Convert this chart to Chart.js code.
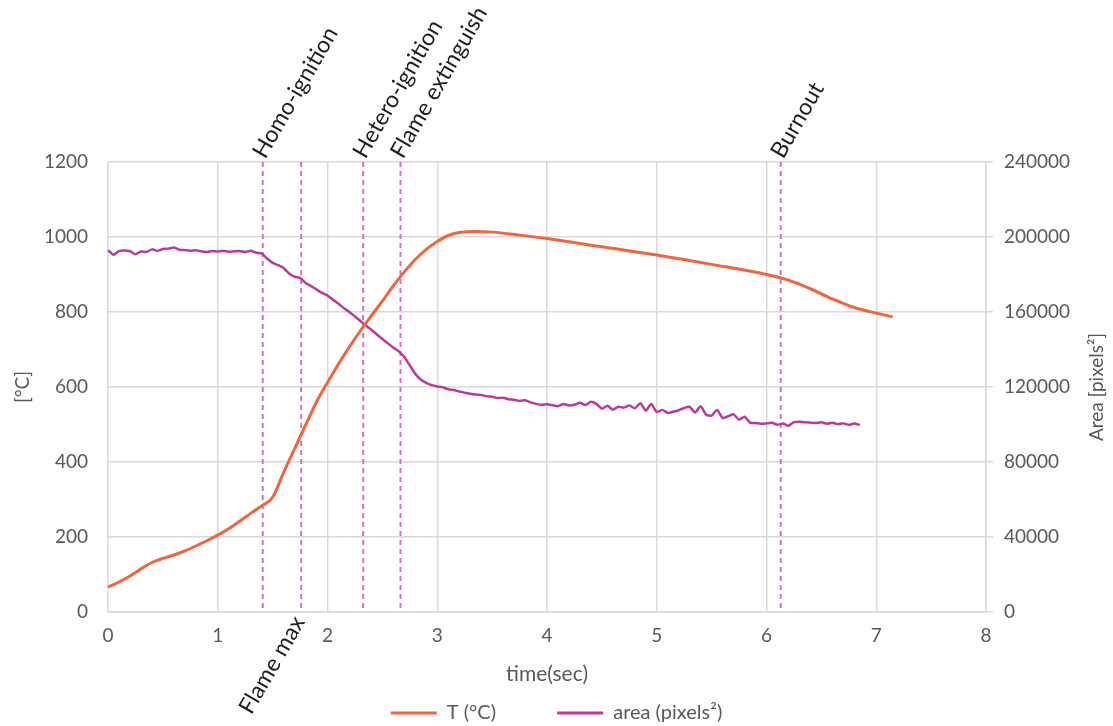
<!DOCTYPE html>
<html>
<head>
<meta charset="utf-8">
<script src="https://cdn.jsdelivr.net/npm/chart.js@4.4.1/dist/chart.umd.min.js"></script>
<style>
  html, body { margin: 0; padding: 0; background: #ffffff; overflow: hidden; }
  #wrap { width: 1113px; height: 726px; }
</style>
</head>
<body>
<div id="wrap"><canvas id="c" width="1113" height="726"></canvas></div>
<script>
// ---- data ----
const tempTimes = [0, 0.1, 0.2, 0.3, 0.4, 0.5, 0.6, 0.7, 0.8, 0.9, 1.0, 1.1, 1.2, 1.3, 1.4, 1.5, 1.6, 1.7, 1.8, 1.9, 2.0, 2.1, 2.2, 2.3, 2.4, 2.5, 2.6, 2.7, 2.8, 2.9, 3.0, 3.1, 3.2, 3.35, 3.5, 3.75, 4.0, 4.5, 5.0, 5.5, 6.0, 6.2, 6.4, 6.6, 6.8, 7.0, 7.15];
const tempValues = [67, 80, 96, 115, 132, 143, 152, 163, 176, 190, 205, 222, 242, 263, 283, 306, 372, 435, 498, 560, 612, 661, 707, 750, 790, 829, 870, 907, 940, 967, 988, 1004, 1012, 1015, 1013, 1005, 996, 974, 952, 927, 900, 885, 862, 835, 812, 797, 787];

const areaTimes = [
  0.00, 0.05, 0.10, 0.15, 0.20, 0.25, 0.30, 0.35, 0.40, 0.45, 0.50, 0.55, 0.60, 0.65, 0.70, 0.75, 0.80, 0.85, 0.90, 0.95,
  1.00, 1.05, 1.10, 1.15, 1.20, 1.25, 1.30, 1.35, 1.40, 1.45, 1.50, 1.55, 1.60, 1.65, 1.70, 1.75, 1.80, 1.85, 1.90, 1.95,
  2.00, 2.05, 2.10, 2.15, 2.20, 2.25, 2.30, 2.35, 2.40, 2.45, 2.50, 2.55, 2.60, 2.65, 2.70, 2.75, 2.80, 2.85, 2.90, 2.95,
  3.00, 3.05, 3.10, 3.15, 3.20, 3.25, 3.30, 3.35, 3.40, 3.45, 3.50, 3.55, 3.60, 3.65, 3.70, 3.75, 3.80, 3.85, 3.90, 3.95,
  4.00, 4.05, 4.10, 4.15, 4.20, 4.25, 4.30, 4.35, 4.40, 4.45, 4.50, 4.55, 4.60, 4.65, 4.70, 4.75, 4.80, 4.85, 4.90, 4.95,
  5.00, 5.05, 5.10, 5.15, 5.20, 5.25, 5.30, 5.35, 5.40, 5.45, 5.50, 5.55, 5.60, 5.65, 5.70, 5.75, 5.80, 5.85, 5.90, 5.95,
  6.00, 6.05, 6.10, 6.15, 6.20, 6.25, 6.30, 6.35, 6.40, 6.45, 6.50, 6.55, 6.60, 6.65, 6.70, 6.75, 6.80, 6.85
];
const areaValues = [
  193000, 190500, 192500, 192800, 192400, 190800, 192300, 192000, 193400, 192600, 193600, 193800, 194400, 193200, 193000, 192700, 192900, 192400, 192000, 192500,
  192300, 192600, 192200, 192400, 192500, 192000, 192700, 191600, 191300, 188500, 186200, 185000, 183500, 180500, 178800, 178200, 175500, 173800, 172000, 170200,
  168800, 166500, 164400, 162000, 160000, 157600, 155200, 152800, 150500, 148000, 145600, 143300, 141000, 139000, 136000, 131500, 127000, 124000, 122200, 121000,
  120300, 119800, 118800, 118400, 117600, 117000, 116400, 116000, 115800, 115000, 114800, 114100, 114300, 113500, 113200, 112600, 112900, 111800, 111000, 110500,
  110800, 110300, 109800, 110900, 110200, 110500, 111600, 110400, 112100, 111000, 108400, 110000, 107900, 109500, 109000, 110200, 108600, 111400, 107400, 111000,
  106600, 107800, 106200, 106800, 107600, 108800, 109400, 106400, 109800, 105200, 104800, 107800, 103500, 104400, 105400, 102600, 104200, 101000, 100800, 100400,
  100600, 100900, 99900, 100500, 99300, 101300, 101500, 101200, 101000, 100800, 101200, 100400, 100900, 100200, 100600, 99800, 100500, 99700
];

const eventNames = ['Homo-ignition', 'Flame max', 'Hetero-ignition', 'Flame extinguish', 'Burnout'];
const eventTimes = [1.41, 1.76, 2.325, 2.665, 6.13];
const eventSides = ['top', 'bottom', 'top', 'top', 'top'];

const xTicks = [0, 1, 2, 3, 4, 5, 6, 7, 8];
const leftTicks = [0, 200, 400, 600, 800, 1000, 1200];
const rightTicks = [0, 40000, 80000, 120000, 160000, 200000, 240000];

const seriesNames = ['T (°C)', 'area (pixels²)'];
const rightTitle = 'Area [pixels²]';

// ---- styles ----
const FONT = 'Lato';
const GRID = '#d9d9d9';
const TXT = '#595959';
const ORANGE = '#f2643e';
const PURPLE = '#b93a9c';
const PINK = '#d870c6';

const eventPlugin = {
  id: 'events',
  beforeDatasetsDraw(chart) {
    const {ctx, chartArea, scales} = chart;
    ctx.save();
    ctx.strokeStyle = PINK;
    ctx.lineWidth = 2;
    ctx.setLineDash([5, 4]);
    eventTimes.forEach(t => {
      const x = scales.x.getPixelForValue(t);
      ctx.beginPath();
      ctx.moveTo(x, chartArea.top);
      ctx.lineTo(x, chartArea.bottom);
      ctx.stroke();
    });
    ctx.restore();
  },
  afterDraw(chart) {
    const {ctx, chartArea, scales} = chart;
    ctx.save();
    ctx.font = '23px ' + FONT;
    ctx.fillStyle = '#1e1e1e';
    ctx.textBaseline = 'middle';
    eventTimes.forEach((t, i) => {
      const x = scales.x.getPixelForValue(t);
      ctx.save();
      if (eventSides[i] === 'top') {
        ctx.translate(x - 4, chartArea.top - 6);
        ctx.rotate(-Math.PI / 3);
        ctx.textAlign = 'left';
      } else {
        ctx.translate(x - 2, chartArea.bottom + 6);
        ctx.rotate(-Math.PI / 3);
        ctx.textAlign = 'right';
      }
      ctx.fillText(eventNames[i], 0, 0);
      ctx.restore();
    });
    // right axis title, reading upward
    const s = scales.y1;
    ctx.save();
    ctx.font = '19px ' + FONT;
    ctx.fillStyle = TXT;
    ctx.textAlign = 'center';
    ctx.textBaseline = 'middle';
    ctx.translate(s.right - 16, (chartArea.top + chartArea.bottom) / 2);
    ctx.rotate(-Math.PI / 2);
    ctx.fillText(rightTitle, 0, 0);
    ctx.restore();
    ctx.restore();
  }
};

const seriesColors = [ORANGE, PURPLE];

new Chart(document.getElementById('c'), {
  type: 'line',
  data: {
    datasets: [
      {
        label: seriesNames[0],
        data: tempTimes.map((t, i) => ({x: t, y: tempValues[i]})),
        borderColor: ORANGE,
        backgroundColor: ORANGE,
        borderWidth: 3,
        pointRadius: 0,
        cubicInterpolationMode: 'monotone',
        yAxisID: 'y'
      },
      {
        label: seriesNames[1],
        data: areaTimes.map((t, i) => ({x: t, y: areaValues[i]})),
        borderColor: PURPLE,
        backgroundColor: PURPLE,
        borderWidth: 2.5,
        pointRadius: 0,
        tension: 0.2,
        yAxisID: 'y1'
      }
    ]
  },
  options: {
    responsive: false,
    devicePixelRatio: 1,
    animation: false,
    layout: { padding: { top: 162, left: 0, right: 0, bottom: -7 } },
    plugins: {
      tooltip: { enabled: false },
      legend: {
        position: 'bottom',
        labels: {
          font: { family: FONT, size: 20 },
          color: TXT,
          boxWidth: 46,
          boxHeight: 3,
          padding: 10,
          generateLabels: (chart) => seriesNames.map((n, i) => ({
            text: i === 0 ? n + '\u00A0'.repeat(10) : n,
            fillStyle: seriesColors[i],
            strokeStyle: seriesColors[i],
            lineWidth: 0,
            hidden: false,
            datasetIndex: i,
            fontColor: TXT
          }))
        }
      }
    },
    scales: {
      x: {
        type: 'linear',
        min: 0, max: 8,
        afterBuildTicks: s => { s.ticks = xTicks.map(v => ({value: v})); },
        afterFit: s => { s.height = 81; },
        ticks: { color: TXT, font: { family: FONT, size: 19 }, padding: 12 },
        grid: { color: GRID, lineWidth: 1.5, drawTicks: false },
        border: { color: GRID, width: 1.5 },
        title: { display: true, text: 'time(sec)', color: TXT, font: { family: FONT, size: 21 }, padding: { top: 0, bottom: 6 } }
      },
      y: {
        position: 'left',
        min: 0, max: 1200,
        afterBuildTicks: s => { s.ticks = leftTicks.map(v => ({value: v})); },
        afterFit: s => { s.width = 108; },
        ticks: { color: TXT, font: { family: FONT, size: 19 }, padding: 20, callback: v => String(v) },
        grid: { color: GRID, lineWidth: 1.5, drawTicks: false },
        border: { display: false },
        title: { display: true, text: '[°C]', color: TXT, font: { family: FONT, size: 19 }, padding: { top: 11, bottom: 0 } }
      },
      y1: {
        position: 'right',
        min: 0, max: 240000,
        afterBuildTicks: s => { s.ticks = rightTicks.map(v => ({value: v})); },
        afterFit: s => { s.width = 127; },
        ticks: { color: TXT, font: { family: FONT, size: 19 }, padding: 11, callback: v => String(v) },
        grid: { color: GRID, lineWidth: 1.5, drawOnChartArea: false, drawTicks: true, tickLength: 7 },
        border: { color: GRID, width: 1.5 },
        title: { display: false }
      }
    }
  },
  plugins: [eventPlugin]
});
</script>
</body>
</html>
